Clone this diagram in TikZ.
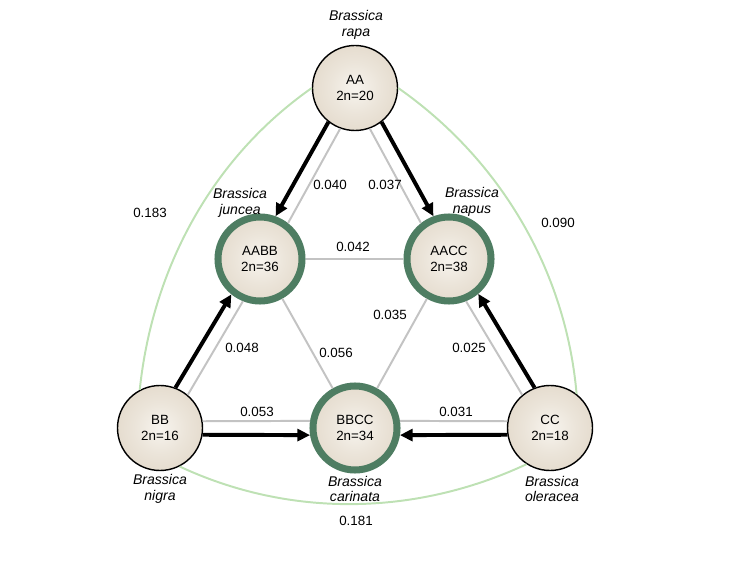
\documentclass[tikz,border=0pt]{standalone}
\usepackage{fontspec}
\setmainfont{Liberation Sans}
\usepackage{xcolor}
\usepackage{tikz}
\definecolor{brgreen}{RGB}{78, 125, 98}
\definecolor{brlight}{RGB}{190, 225, 180}
\definecolor{brgray}{RGB}{195, 195, 195}
\definecolor{brtan}{RGB}{214, 200, 180}
\definecolor{brcream}{RGB}{247, 244, 238}
\usetikzlibrary{arrows.meta,positioning,calc}
\pgfdeclareradialshading{genome}{\pgfpoint{0bp}{0bp}}{color(0bp)=(brcream); color(15bp)=(brcream!65!brtan); color(50bp)=(brtan)}

\begin{document}
\begin{tikzpicture}
    \tikzstyle{diploid} = [circle, draw=black, line width=1pt, shading=genome,
                           minimum size=2.125cm, inner sep=0pt, align=center,
                           font=\fontsize{9.5}{11}\selectfont]
    \tikzstyle{amphi} = [circle, draw=brgreen, line width=5pt, shading=genome,
                         minimum size=2.1cm, inner sep=0pt, align=center,
                         font=\fontsize{9.5}{11}\selectfont]
    \tikzstyle{species} = [align=center, font=\fontsize{10}{11}\selectfont\itshape]
    \tikzstyle{dist} = [font=\fontsize{9.5}{11}\selectfont]
    \tikzstyle{link} = [brgray, line width=1.4pt]
    \tikzstyle{origin} = [-{Triangle[length=9pt,width=8.5pt]}, line width=2.8pt, black]
    \tikzstyle{arcline} = [brlight, line width=1.4pt, looseness=0.9]

    \useasboundingbox (0,0) rectangle (18.6,14.4);

    % Diploid species
    \node[diploid] (aa) at (8.875,12.2) {AA\\2n=20};
    \node[diploid] (bb) at (4.0,3.7) {BB\\2n=16};
    \node[diploid] (cc) at (13.75,3.7) {CC\\2n=18};

    % Amphidiploid species
    \node[amphi] (aabb) at (6.5,7.925) {AABB\\2n=36};
    \node[amphi] (aacc) at (11.225,7.925) {AACC\\2n=38};
    \node[amphi] (bbcc) at (8.875,3.7) {BBCC\\2n=34};

    % Species names
    \node[species] (rapa) at (8.9,13.775) {Brassica\\rapa};
    \node[species] (juncea) at (6.0,9.325) {Brassica\\juncea};
    \node[species] (napus) at (11.8,9.35) {Brassica\\napus};
    \node[species] (nigra) at (4.0,2.175) {Brassica\\nigra};
    \node[species] (carinata) at (8.875,2.175) {Brassica\\carinata};
    \node[species] (oleracea) at (13.8,2.175) {Brassica\\oleracea};

    % Outer arcs
    \draw[arcline] (aa.180) to[out=215, in=84] (bb.118);
    \draw[arcline] (aa.0) to[out=-35, in=95] (cc.52);
    \draw[arcline] (bb.297) to[out=-25, in=205] (cc.237);

    % Distance links
    \draw[link] (aa.250) -- (aabb.52);
    \draw[link] (aa.290) -- (aacc.128);
    \draw[link] (bb.50) -- (aabb.248);
    \draw[link] (cc.130) -- (aacc.292);
    \draw[link] (bb.9) -- (bbcc.171);
    \draw[link] (cc.171) -- (bbcc.9);
    \draw[link] (aabb) -- (aacc);
    \draw[link] (aabb) -- (bbcc);
    \draw[link] (aacc) -- (bbcc);

    % Origin arrows
    \draw[origin] (aa.232) -- (aabb.70);
    \draw[origin] (aa.308) -- (aacc.110);
    \draw[origin] (bb.69) -- (aabb.231);
    \draw[origin] (cc.111) -- (aacc.310);
    \draw[origin] (bb.351) -- (bbcc.189);
    \draw[origin] (cc.189) -- (bbcc.351);

    % Distances
    \node[dist] (d-ab) at (3.75,9.075) {0.183};
    \node[dist] (d-ac) at (13.95,8.825) {0.090};
    \node[dist] (d-bc) at (8.9,1.375) {0.181};
    \node[dist] (d-a-ab) at (8.25,9.775) {0.040};
    \node[dist] (d-a-ac) at (9.625,9.775) {0.037};
    \node[dist] (d-ab-ac) at (8.825,8.225) {0.042};
    \node[dist] (d-b-ab) at (6.05,5.7) {0.048};
    \node[dist] (d-ab-bc) at (8.4,5.575) {0.056};
    \node[dist] (d-ac-bc) at (9.75,6.525) {0.035};
    \node[dist] (d-c-ac) at (11.725,5.7) {0.025};
    \node[dist] (d-b-bc) at (6.425,4.1) {0.053};
    \node[dist] (d-c-bc) at (11.4,4.1) {0.031};
\end{tikzpicture}
\end{document}
